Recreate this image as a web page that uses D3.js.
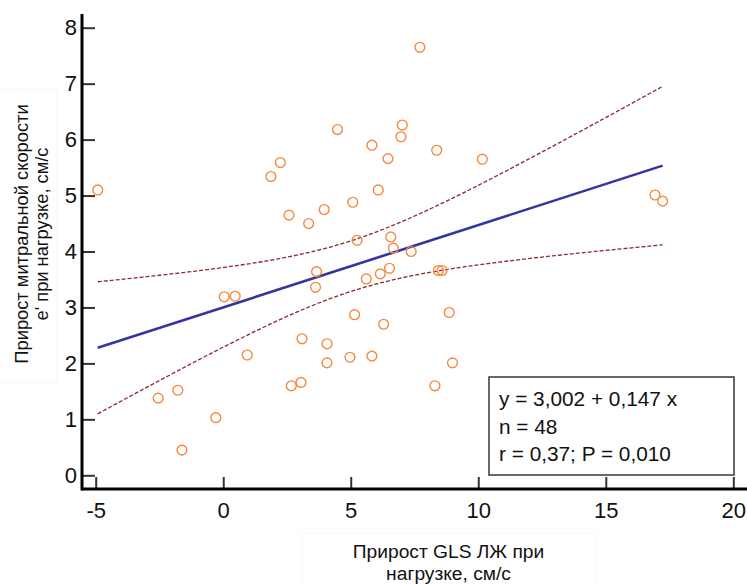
<!DOCTYPE html>
<html>
<head>
<meta charset="utf-8">
<script src="https://cdn.jsdelivr.net/npm/d3@7"></script>
<style>
  html, body { margin: 0; padding: 0; background: #fff; }
  svg { display: block; font-family: "Liberation Sans", Arial, sans-serif; }
</style>
</head>
<body>
<svg id="chart" width="747" height="584"></svg>
<script>
// Прирост GLS ЛЖ (x) и прирост e' (y) при нагрузке, по пациентам
const glsGain = [
  -4.92, 2.24, 1.87, 7.71, 4.48, 7.02, 6.97, 5.83, 8.37, 6.46,
  6.08, 10.16, 16.93, 17.23, 2.58, 3.35, 3.96, 5.08, 5.25, 6.57,
  6.67, 7.37, 3.66, 3.62, 5.61, 6.16, 6.52, 8.44, 8.58, 5.15,
  6.29, 8.86, 0.04, 0.47, 0.94, -2.55, -1.78, -0.29, -1.62, 3.09,
  4.07, 4.07, 4.97, 5.83, 8.99, 2.67, 3.05, 8.30
];
const eGain = [
  5.10, 5.59, 5.34, 7.65, 6.18, 6.26, 6.05, 5.90, 5.81, 5.66,
  5.10, 5.65, 5.01, 4.90, 4.65, 4.50, 4.75, 4.88, 4.20, 4.26,
  4.06, 4.00, 3.64, 3.36, 3.51, 3.60, 3.70, 3.66, 3.66, 2.87,
  2.70, 2.91, 3.19, 3.20, 2.15, 1.38, 1.52, 1.03, 0.45, 2.44,
  2.35, 2.01, 2.11, 2.13, 2.01, 1.60, 1.66, 1.60
];

// Regression fit
const intercept = 3.002;
const slope = 0.147;
const tCrit = 2.013; // t(0.975, df = 46)

const xTicks = [-5, 0, 5, 10, 15, 20];
const yTicks = [0, 1, 2, 3, 4, 5, 6, 7, 8];

const statLines = ["y = 3,002 + 0,147 x", "n = 48", "r = 0,37; P = 0,010"];
const yTitle = ["Прирост митральной скорости", "e' при нагрузке, см/с"];
const xTitle = ["Прирост GLS ЛЖ при", "нагрузке, см/с"];

const svg = d3.select("#chart");

const x = d3.scaleLinear().domain([-5, 20]).range([95.7, 733.3]);
const y = d3.scaleLinear().domain([0, 8]).range([475.3, 27.7]);

const axisX0 = 82, axisY0 = 489;

// faint label frames
svg.append("rect").attr("x", -1).attr("y", 89).attr("width", 58).attr("height", 293)
  .attr("fill", "#fff").attr("stroke", "#f7f7f7").attr("stroke-width", 1);
svg.append("rect").attr("x", 302).attr("y", 533).attr("width", 294).attr("height", 60)
  .attr("fill", "#fff").attr("stroke", "#f7f7f7").attr("stroke-width", 1);

// axes
const gx = svg.append("g").attr("transform", `translate(0,${axisY0})`)
  .call(d3.axisBottom(x).tickValues(xTicks).tickSize(-12).tickPadding(13.5)
    .tickFormat(d => String(d)));
const gy = svg.append("g").attr("transform", `translate(${axisX0},0)`)
  .call(d3.axisLeft(y).tickValues(yTicks).tickSize(-13).tickPadding(5)
    .tickFormat(d => String(d)));
[gx, gy].forEach(g => {
  g.select(".domain").remove();
  g.selectAll(".tick line").attr("stroke", "#333").attr("stroke-width", 2);
  g.selectAll(".tick text").attr("fill", "#111").style("font-size", "22px")
    .style("font-family", "'Liberation Sans', Arial, sans-serif");
});

svg.append("line").attr("x1", axisX0).attr("x2", 747).attr("y1", axisY0).attr("y2", axisY0)
  .attr("stroke", "#000").attr("stroke-width", 3);
svg.append("line").attr("x1", axisX0).attr("x2", axisX0).attr("y1", 14).attr("y2", axisY0 + 1.5)
  .attr("stroke", "#000").attr("stroke-width", 3);

// confidence band of the regression line
const n = glsGain.length;
const xMean = d3.mean(glsGain);
const sxx = d3.sum(glsGain, v => (v - xMean) ** 2);
const sse = d3.sum(glsGain, (v, i) => (eGain[i] - (intercept + slope * v)) ** 2);
const sRes = Math.sqrt(sse / (n - 2));
const [xMin, xMax] = d3.extent(glsGain);
const grid = d3.range(0, 101).map(i => xMin + (xMax - xMin) * i / 100);
const half = v => tCrit * sRes * Math.sqrt(1 / n + (v - xMean) ** 2 / sxx);

const line = d3.line().x(d => x(d[0])).y(d => y(d[1]));
[1, -1].forEach(sign => {
  svg.append("path")
    .attr("d", line(grid.map(v => [v, intercept + slope * v + sign * half(v)])))
    .attr("fill", "none").attr("stroke", "#8e2a2a").attr("stroke-width", 1.3)
    .attr("stroke-dasharray", "4,2");
});

// regression line
svg.append("path")
  .attr("d", line([[xMin, intercept + slope * xMin], [xMax, intercept + slope * xMax]]))
  .attr("fill", "none").attr("stroke", "#3535a0").attr("stroke-width", 2.6);

// data points
svg.append("g").selectAll("circle").data(glsGain).join("circle")
  .attr("cx", d => x(d))
  .attr("cy", (d, i) => y(eGain[i]))
  .attr("r", 4.9)
  .attr("fill", "none").attr("stroke", "#f7883f").attr("stroke-width", 1.4);

// statistics box
svg.append("rect").attr("x", 489).attr("y", 377).attr("width", 245).attr("height", 98)
  .attr("fill", "#fff").attr("stroke", "#444").attr("stroke-width", 1.6);
svg.append("g").selectAll("text").data(statLines).join("text")
  .attr("x", 499).attr("y", (d, i) => 406 + i * 27.5)
  .attr("fill", "#111").style("font-size", "20.8px").text(d => d);

// axis titles
svg.append("g").attr("transform", "translate(0,234) rotate(-90)")
  .selectAll("text").data(yTitle).join("text")
  .attr("x", 0).attr("y", (d, i) => 28 + i * 20)
  .attr("text-anchor", "middle").attr("fill", "#111").style("font-size", "18.3px")
  .text(d => d);
svg.append("g").selectAll("text").data(xTitle).join("text")
  .attr("x", 448.5).attr("y", (d, i) => 558 + i * 21.5)
  .attr("text-anchor", "middle").attr("fill", "#111").style("font-size", "19.2px")
  .text(d => d);
</script>
</body>
</html>
